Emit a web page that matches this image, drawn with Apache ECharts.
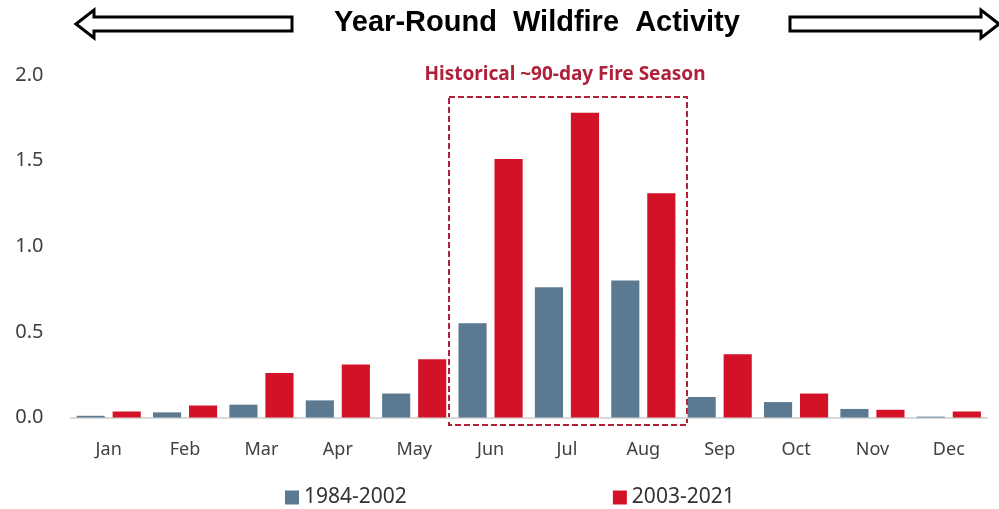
<!DOCTYPE html>
<html>
<head>
<meta charset="utf-8">
<script src="https://cdn.jsdelivr.net/npm/echarts@6/dist/echarts.min.js"></script>
<style>
  html, body { margin: 0; padding: 0; background: #fff; }
  #main { width: 999px; height: 509px; }
</style>
</head>
<body>
<div id="main"></div>
<script>
// 数据
var months = ['Jan', 'Feb', 'Mar', 'Apr', 'May', 'Jun', 'Jul', 'Aug', 'Sep', 'Oct', 'Nov', 'Dec'];
var early = [0.01, 0.03, 0.075, 0.10, 0.14, 0.55, 0.76, 0.80, 0.12, 0.09, 0.05, 0.005];
var recent = [0.035, 0.07, 0.26, 0.31, 0.34, 1.51, 1.78, 1.31, 0.37, 0.14, 0.045, 0.035];
var yTicks = [0, 0.5, 1.0, 1.5, 2.0];

var myChart = echarts.init(document.getElementById('main'));

// 箭头 (title decoration)
function arrow(x0, x1, dir) {
    var yc = 24, sh = 7, hh = 14, hl = 18;
    var pts;
    if (dir < 0) {
        pts = [[x0, yc], [x0 + hl, yc - hh], [x0 + hl, yc - sh], [x1, yc - sh], [x1, yc + sh], [x0 + hl, yc + sh], [x0 + hl, yc + hh]];
    } else {
        pts = [[x1, yc], [x1 - hl, yc - hh], [x1 - hl, yc - sh], [x0, yc - sh], [x0, yc + sh], [x1 - hl, yc + sh], [x1 - hl, yc + hh]];
    }
    return {
        type: 'polygon',
        shape: { points: pts },
        style: { fill: '#fff', stroke: '#000', lineWidth: 3 }
    };
}

myChart.setOption({
    color: ['#5b7a92', '#d31228'],
    legend: {
        top: 482,
        left: 280,
        icon: 'rect',
        itemWidth: 14,
        itemHeight: 14,
        itemGap: 206,
        textStyle: { fontFamily: 'Noto Sans', fontSize: 21, color: '#333' },
        data: ['1984-2002', '2003-2021']
    },
    grid: { left: 70.5, right: 12, top: 75, bottom: 91.5 },
    xAxis: {
        type: 'category',
        data: months,
        axisLine: { lineStyle: { color: '#d9d9d9', width: 2 } },
        axisTick: { show: false },
        axisLabel: { fontFamily: 'Noto Sans', fontSize: 18, color: '#404040', margin: 23 }
    },
    yAxis: {
        type: 'value',
        min: yTicks[0],
        max: yTicks[yTicks.length - 1],
        interval: 0.5,
        splitLine: { show: false },
        axisLabel: {
            fontFamily: 'Noto Sans', fontSize: 20, color: '#404040', margin: 27,
            formatter: function (v) { return v.toFixed(1); }
        }
    },
    series: [
        {
            name: '1984-2002',
            type: 'bar',
            barGap: '28%',
            barCategoryGap: '16%',
            data: early
        },
        {
            name: '2003-2021',
            type: 'bar',
            data: recent
        }
    ],
    graphic: [
        arrow(76, 292, -1),
        arrow(790, 999, 1),
        {
            type: 'text',
            x: 537,
            y: 23,
            style: {
                text: 'Year-Round  Wildfire  Activity',
                fill: '#000',
                font: 'bold 29px "Liberation Sans"',
                textAlign: 'center',
                textVerticalAlign: 'middle'
            }
        },
        {
            type: 'text',
            x: 565,
            y: 75,
            style: {
                text: 'Historical ~90-day Fire Season',
                fill: '#b0203a',
                font: 'bold 19px "Noto Sans"',
                textAlign: 'center',
                textVerticalAlign: 'middle'
            }
        },
        {
            type: 'rect',
            shape: { x: 449, y: 97, width: 238, height: 328 },
            style: { fill: 'none', stroke: '#b0203a', lineWidth: 2, lineDash: [6, 3] }
        }
    ]
});
</script>
</body>
</html>
